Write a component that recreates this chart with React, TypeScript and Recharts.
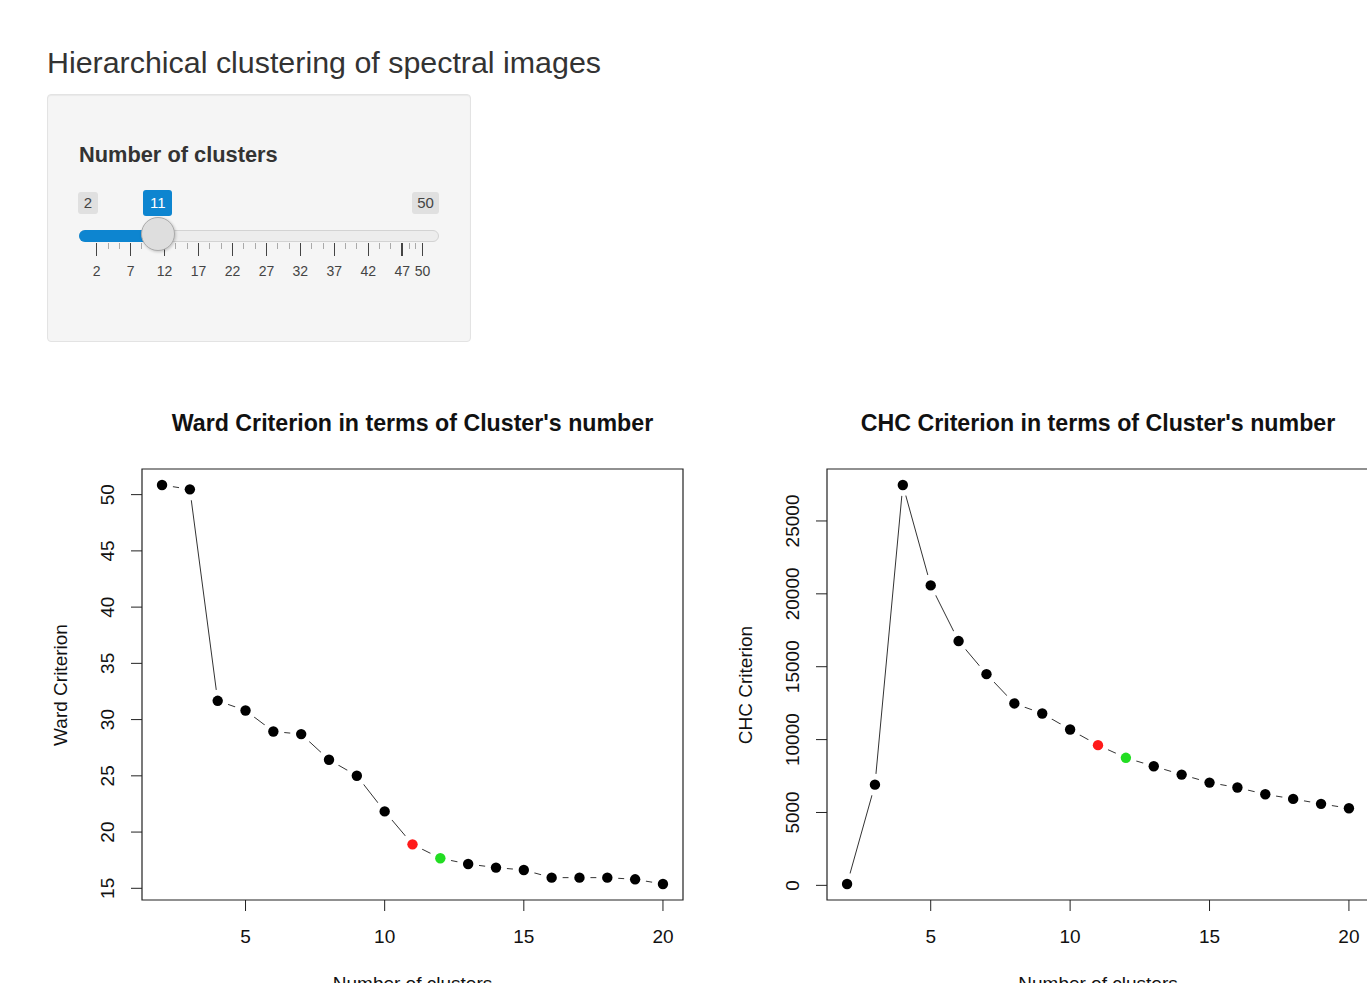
import { LineChart, Line, XAxis, YAxis, ReferenceArea } from "recharts"

// number of clusters on the x axis
const clusters = [2, 3, 4, 5, 6, 7, 8, 9, 10, 11, 12, 13, 14, 15, 16, 17, 18, 19, 20]
const wardValues = [
  50.86, 50.47, 31.67, 30.81, 28.94, 28.71, 26.43, 25.01, 21.84, 18.91,
  17.67, 17.16, 16.84, 16.63, 15.95, 15.95, 15.95, 15.8, 15.38,
]
const chcValues = [
  90, 6910, 27470, 20580, 16760, 14490, 12480, 11790, 10690, 9620,
  8750, 8170, 7600, 7050, 6710, 6250, 5930, 5590, 5290,
]
const clusterTicks = [5, 10, 15, 20]
const wardTicks = [15, 20, 25, 30, 35, 40, 45, 50]
const chcTicks = [0, 5000, 10000, 15000, 20000, 25000]

// slider widget
const sliderMin = 2
const sliderMax = 50
const selectedK = 11
const sliderTicks = [2, 7, 12, 17, 22, 27, 32, 37, 42, 47, 50]

const FONT = "'Liberation Sans', Arial, Helvetica, sans-serif"
const TEXT = "#111"

const wardData = clusters.map((k, i) => ({ k, v: wardValues[i] }))
const chcData = clusters.map((k, i) => ({ k, v: chcValues[i] }))

// R pads the data range by 4% on each side
function padded(vals: number[]): [number, number] {
  const lo = Math.min(...vals)
  const hi = Math.max(...vals)
  const d = (hi - lo) * 0.04
  return [lo - d, hi + d]
}

const xDomain = padded(clusters)

function dotColor(k: number) {
  if (k === selectedK) return "#ff1a1a"
  if (k === selectedK + 1) return "#22dd22"
  return "#000"
}

// type="b" look: a white halo cuts the line near each point
function renderDot(props: any) {
  const { cx, cy, payload, index } = props
  if (cx == null || cy == null) return <g key={index} />
  return (
    <g key={`d${index}`}>
      <circle cx={cx} cy={cy} r={11} fill="#fff" />
      <circle cx={cx} cy={cy} r={5.2} fill={dotColor(payload.k)} />
    </g>
  )
}

function RotatedTick(props: any) {
  const { x, y, payload } = props
  return (
    <text
      x={x}
      y={y}
      transform={`rotate(-90 ${x} ${y})`}
      textAnchor="middle"
      fontSize={19}
      fill={TEXT}
      fontFamily={FONT}
    >
      {payload.value}
    </text>
  )
}

interface PanelProps {
  data: { k: number; v: number }[]
  yTicks: number[]
  margin: { top: number; right: number; bottom: number; left: number }
}

function CriterionPlot({ data, yTicks, margin }: PanelProps) {
  const yDomain = padded(data.map((d) => d.v))
  return (
    <LineChart width={700} height={583} data={data} margin={margin}>
      <XAxis
        type="number"
        dataKey="k"
        domain={xDomain}
        ticks={clusterTicks}
        allowDataOverflow
        axisLine={false}
        tickSize={11}
        tickMargin={19}
        tickLine={{ stroke: "#222" }}
        tick={{ fontSize: 19, fill: TEXT, fontFamily: FONT }}
        height={60}
      />
      <YAxis
        type="number"
        dataKey="v"
        domain={yDomain}
        ticks={yTicks}
        allowDataOverflow
        axisLine={false}
        tickSize={11}
        tickMargin={17}
        tickLine={{ stroke: "#222" }}
        tick={<RotatedTick />}
        width={60}
      />
      <ReferenceArea
        x1={xDomain[0]}
        x2={xDomain[1]}
        y1={yDomain[0]}
        y2={yDomain[1]}
        fill="none"
        stroke="#222"
        strokeWidth={1.2}
        ifOverflow="visible"
      />
      <Line
        type="linear"
        dataKey="v"
        stroke="#333"
        strokeWidth={1}
        dot={renderDot}
        activeDot={false}
        isAnimationActive={false}
      />
    </LineChart>
  )
}

const abs = (left: number, top: number, extra: React.CSSProperties = {}): React.CSSProperties => ({
  position: "absolute",
  left,
  top,
  ...extra,
})

function Slider() {
  const gridLeft = 96.7
  const gridRight = 422.6
  const sx = (v: number) => gridLeft + ((v - sliderMin) / (sliderMax - sliderMin)) * (gridRight - gridLeft)
  const handleX = sx(selectedK)
  const minor: number[] = []
  for (let i = 0; i < sliderTicks.length - 1; i++) {
    const a = sliderTicks[i]
    const b = sliderTicks[i + 1]
    minor.push(a + (b - a) / 3, a + (2 * (b - a)) / 3)
  }
  const badge = (left: number, w: number, blue: boolean): React.CSSProperties =>
    abs(left, blue ? 190 : 192, {
      width: w,
      height: blue ? 26 : 22,
      lineHeight: blue ? "26px" : "22px",
      textAlign: "center",
      background: blue ? "#0d85d0" : "#e0e0e0",
      color: blue ? "#fff" : "#444",
      borderRadius: 3,
      fontSize: 15,
    })
  return (
    <>
      <div style={badge(78, 20, false)}>{sliderMin}</div>
      <div style={badge(handleX - 14.5, 29, true)}>{selectedK}</div>
      <div style={badge(412, 27, false)}>{sliderMax}</div>
      <div
        style={abs(79, 230, {
          width: 360,
          height: 12,
          boxSizing: "border-box",
          background: "#ededed",
          border: "1px solid #d3d3d3",
          borderRadius: 6,
        })}
      />
      <div
        style={abs(79, 230, {
          width: handleX - 79,
          height: 12,
          background: "#0d85d0",
          borderRadius: "6px 0 0 6px",
        })}
      />
      {minor.map((v, i) => (
        <div key={`m${i}`} style={abs(sx(v) - 0.5, 243, { width: 1, height: 6, background: "#aaa" })} />
      ))}
      {sliderTicks.map((v) => (
        <div key={`t${v}`} style={abs(sx(v) - 0.75, 243, { width: 1.5, height: 13, background: "#444" })} />
      ))}
      {sliderTicks.map((v) => (
        <div
          key={`l${v}`}
          style={abs(sx(v) - 20, 263, {
            width: 40,
            textAlign: "center",
            fontSize: 14,
            lineHeight: "16px",
            color: "#444",
          })}
        >
          {v}
        </div>
      ))}
      <div
        style={abs(handleX - 17, 217, {
          width: 34,
          height: 34,
          boxSizing: "border-box",
          borderRadius: "50%",
          background: "#dedede",
          border: "1px solid #ababab",
          boxShadow: "1px 1px 3px rgba(0,0,0,0.2)",
        })}
      />
    </>
  )
}

function rotatedLabel(cx: number, cy: number, text: string) {
  return (
    <div
      style={abs(cx - 150, cy - 10, {
        width: 300,
        height: 20,
        lineHeight: "20px",
        textAlign: "center",
        fontSize: 19,
        color: TEXT,
        transform: "rotate(-90deg)",
      })}
    >
      {text}
    </div>
  )
}

export default function App() {
  return (
    <div
      style={{
        position: "fixed",
        left: 0,
        top: 0,
        width: 1367,
        height: 983,
        overflow: "hidden",
        background: "#fff",
        fontFamily: FONT,
      }}
    >
      <div style={abs(47, 47, { fontSize: 30.4, lineHeight: "30.4px", color: "#333", whiteSpace: "nowrap" })}>
        Hierarchical clustering of spectral images
      </div>

      <div
        style={abs(47, 94, {
          width: 424,
          height: 248,
          boxSizing: "border-box",
          background: "#f5f5f5",
          border: "1px solid #e3e3e3",
          borderRadius: 4,
          boxShadow: "inset 0 1px 1px rgba(0,0,0,0.05)",
        })}
      />
      <div style={abs(79, 144, { fontSize: 21.8, lineHeight: "21.8px", fontWeight: 700, color: "#333", whiteSpace: "nowrap" })}>
        Number of clusters
      </div>
      <Slider />

      <div style={abs(142, 412, { width: 541, textAlign: "center", fontSize: 23.2, lineHeight: "23px", fontWeight: 700, color: TEXT, whiteSpace: "nowrap" })}>
        Ward Criterion in terms of Cluster's number
      </div>
      <div style={abs(827, 412, { width: 542, textAlign: "center", fontSize: 23.2, lineHeight: "23px", fontWeight: 700, color: TEXT, whiteSpace: "nowrap" })}>
        CHC Criterion in terms of Cluster's number
      </div>

      <div style={abs(0, 400)}>
        <CriterionPlot data={wardData} yTicks={wardTicks} margin={{ top: 69, right: 17, bottom: 23, left: 82 }} />
      </div>
      <div style={abs(700, 400)}>
        <CriterionPlot data={chcData} yTicks={chcTicks} margin={{ top: 69, right: 31, bottom: 23, left: 67 }} />
      </div>

      {rotatedLabel(61, 685, "Ward Criterion")}
      {rotatedLabel(746, 685, "CHC Criterion")}

      <div style={abs(142, 974, { width: 541, textAlign: "center", fontSize: 19, lineHeight: "19px", color: TEXT })}>
        Number of clusters
      </div>
      <div style={abs(827, 974, { width: 542, textAlign: "center", fontSize: 19, lineHeight: "19px", color: TEXT })}>
        Number of clusters
      </div>
    </div>
  )
}
